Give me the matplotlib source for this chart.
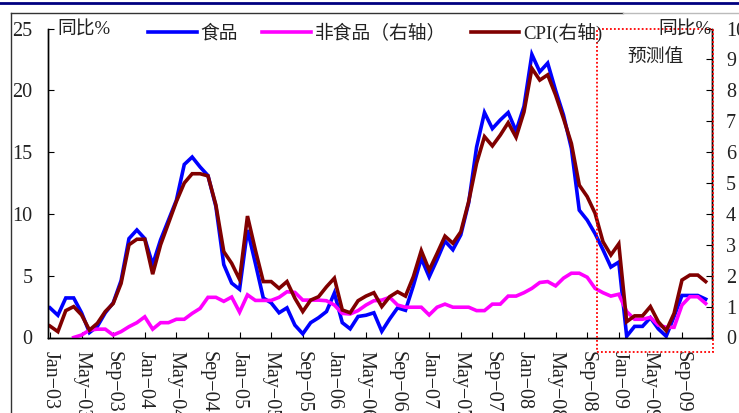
import numpy as np
import pandas as pd
import matplotlib
matplotlib.use("Agg")
import matplotlib.pyplot as plt
from matplotlib.lines import Line2D
from matplotlib.patches import Rectangle

plt.rcParams['font.family'] = ['Liberation Serif', 'Noto Sans CJK SC', 'DejaVu Sans']

months = list(pd.date_range('2003-01-01', periods=84, freq='MS').strftime('%b\u2212%y'))

# food CPI, left axis (%)
food = [2.4, 1.8, 3.2, 3.2, 2.0, 0.4, 0.9, 2.0, 2.8, 4.6,
        8.0, 8.7, 8.0, 5.9, 7.9, 9.5, 11.1, 14.0, 14.6, 13.8,
        13.1, 10.6, 5.9, 4.4, 3.9, 8.7, 6.0, 3.2, 2.8, 2.0,
        2.4, 1.0, 0.3, 1.2, 1.6, 2.1, 3.6, 1.2, 0.7, 1.7,
        1.8, 2.0, 0.5, 1.5, 2.4, 2.2, 4.2, 6.4, 4.9, 6.3,
        7.8, 7.1, 8.3, 10.9, 15.4, 18.2, 16.9, 17.6, 18.2, 16.7,
        18.7, 22.9, 21.5, 22.2, 20.0, 18.0, 15.3, 10.3, 9.5, 8.4,
        7.1, 5.7, 6.1, 0.1, 0.9, 0.9, 1.6, 0.7, 0.1, 1.7,
        3.4, 3.4, 3.4, 3.1]

# non-food CPI, right axis (%)
nonfood = [np.nan, np.nan, np.nan, 0.0, 0.08, 0.24, 0.27, 0.27, 0.08, 0.19,
           0.35, 0.48, 0.67, 0.27, 0.48, 0.48, 0.59, 0.59, 0.78, 0.94,
           1.3, 1.3, 1.17, 1.31, 0.82, 1.38, 1.2, 1.2, 1.2, 1.3,
           1.48, 1.46, 1.21, 1.21, 1.21, 1.19, 1.05, 0.78, 0.76, 0.87,
           1.05, 1.19, 1.21, 1.3, 1.05, 0.98, 0.98, 0.98, 0.73, 0.98,
           1.08, 0.98, 0.98, 0.98, 0.87, 0.87, 1.08, 1.08, 1.34, 1.34,
           1.45, 1.59, 1.78, 1.81, 1.67, 1.92, 2.08, 2.08, 1.95, 1.59,
           1.45, 1.34, 1.4, 0.84, 0.59, 0.59, 0.65, 0.4, 0.33, 0.33,
           1.05, 1.32, 1.32, 1.1]

# headline CPI, right axis (%)
cpi = [0.37, 0.19, 0.87, 1.0, 0.73, 0.24, 0.46, 0.84, 1.1, 1.75,
       3.0, 3.18, 3.18, 2.05, 3.0, 3.7, 4.4, 5.0, 5.3, 5.3,
       5.23, 4.29, 2.78, 2.4, 1.88, 3.93, 2.83, 1.81, 1.81, 1.59,
       1.81, 1.27, 0.84, 1.21, 1.32, 1.64, 1.92, 0.89, 0.8, 1.19,
       1.34, 1.45, 1.0, 1.32, 1.48, 1.34, 1.97, 2.81, 2.18, 2.72,
       3.28, 3.05, 3.42, 4.4, 5.64, 6.5, 6.2, 6.55, 6.95, 6.48,
       7.3, 8.71, 8.33, 8.5, 7.85, 7.09, 6.28, 4.93, 4.56, 4.02,
       3.1, 2.67, 3.03, 0.51, 0.7, 0.7, 1.0, 0.51, 0.22, 0.78,
       1.86, 2.02, 2.02, 1.81]

W, H = 739, 413
fig = plt.figure(figsize=(W / 100, H / 100), dpi=100)
ax = fig.add_axes([48 / W, 1 - 337.5 / H, (712 - 48) / W, (337.5 - 28.5) / H])
ax2 = ax.twinx()

x = np.arange(len(months))
txt = '#222222'
lw = 2.6

ax.plot(x, food, color='#0000FF', lw=lw, solid_joinstyle='miter')
ax2.plot(x, nonfood, color='#FF00FF', lw=lw, solid_joinstyle='miter')
ax2.plot(x, cpi, color='#800000', lw=lw, solid_joinstyle='miter')

ax.set_xlim(-0.25, 83.8)
ax.set_ylim(0, 25)
ax2.set_ylim(0, 10)
ax.set_yticks(range(0, 26, 5))
ax2.set_yticks(range(0, 11))

ax.set_xticks(x[::4])
ax.set_xticklabels(months[::4], rotation=270, ha='center', va='top')

for a in (ax, ax2):
    a.spines['top'].set_visible(False)
    for s in a.spines.values():
        s.set_linewidth(1.0)
ax.tick_params(axis='y', direction='in', length=4, pad=11, labelsize=14.5, labelcolor=txt)
ax.tick_params(axis='x', direction='in', length=4, pad=10, labelsize=14.5, labelcolor=txt)
ax2.tick_params(axis='y', direction='in', length=4, pad=10, labelsize=14.5, labelcolor=txt)

fs = 13.5
fig.text(57 / W, 1 - 30 / H, '同比%', fontsize=fs, color=txt, ha='left', va='center')
fig.text(711 / W, 1 - 30 / H, '同比%', fontsize=fs, color=txt, ha='right', va='center')
fig.text(655 / W, 1 - 57 / H, '预测值', fontsize=fs, color=txt, ha='center', va='center')

handles = [Line2D([], [], color='#0000FF', lw=lw),
           Line2D([], [], color='#FF00FF', lw=lw),
           Line2D([], [], color='#800000', lw=lw)]
fig.legend(handles, ['食品', '非食品（右轴）', 'CPI(右轴)'], loc='upper left',
           bbox_to_anchor=(148 / W, 1 - 23 / H), ncol=3, frameon=False,
           fontsize=fs, handlelength=2.6, handletextpad=0.2, columnspacing=1.3,
           borderpad=0, borderaxespad=0, labelcolor=txt)

# forecast box
fig.add_artist(Rectangle((597 / W, 1 - 352 / H), (713 - 597) / W, (352 - 29) / H,
                         transform=fig.transFigure, fill=False, edgecolor='#FF0000',
                         linestyle=(0, (1, 1.2)), lw=1.3, clip_on=False))

# page frame lines
fig.add_artist(Line2D([0, 1], [1 - 2.5 / H] * 2, transform=fig.transFigure, color='#000080', lw=2))
fig.add_artist(Line2D([10.5 / W, 623 / W], [1 - 12.5 / H] * 2, transform=fig.transFigure, color='#333333', lw=1))
fig.add_artist(Line2D([623 / W, 1], [1 - 12.5 / H] * 2, transform=fig.transFigure, color='#bbbbbb', lw=1))
fig.add_artist(Line2D([10.5 / W] * 2, [0, 1 - 12.5 / H], transform=fig.transFigure, color='#333333', lw=1))

fig.savefig('out.png', dpi=100)
